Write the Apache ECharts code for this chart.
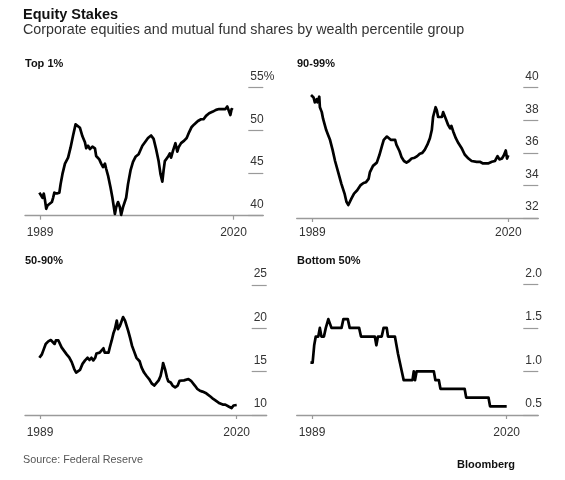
<!DOCTYPE html>
<html>
<head>
<meta charset="utf-8">
<script src="https://cdn.jsdelivr.net/npm/echarts@6/dist/echarts.min.js"></script>
<style>
html,body{margin:0;padding:0;background:#fff;}
#chart{width:565px;height:480px;}
</style>
</head>
<body>
<div id="chart"></div>
<script>
// ---- Data (year, share %) ----
const yearTicks = [1989, 2020];

const top1 = [[1988.9,42.7],[1989.2,42.5],[1989.4,42.1],[1989.6,42.6],[1989.8,41.8],[1990.0,40.8],[1990.2,41.2],[1990.5,41.4],[1990.9,41.6],[1991.1,42.1],[1991.3,42.7],[1991.7,42.6],[1992.1,42.7],[1992.3,43.7],[1992.6,44.9],[1993.0,46.1],[1993.5,46.8],[1993.9,48.0],[1994.3,49.4],[1994.7,50.7],[1995.0,50.8],[1995.4,50.3],[1995.8,49.3],[1996.2,48.6],[1996.4,47.9],[1996.7,48.2],[1997.0,47.8],[1997.4,48.1],[1997.8,47.9],[1998.0,47.0],[1998.5,46.6],[1998.8,46.1],[1999.1,45.7],[1999.4,46.1],[1999.6,45.5],[1999.9,44.7],[2000.3,43.3],[2000.6,42.1],[2000.8,42.0],[2001.0,40.2],[2001.2,41.0],[2001.5,41.6],[2001.8,41.0],[2002.0,40.1],[2002.3,41.0],[2002.6,41.0],[2002.8,42.1],[2003.1,43.7],[2003.5,45.3],[2003.9,46.3],[2004.3,46.9],[2004.8,47.2],[2005.4,48.2],[2005.9,48.7],[2006.3,49.1],[2006.8,49.4],[2007.2,49.0],[2007.6,47.8],[2008.0,46.4],[2008.3,44.9],[2008.6,44.0],[2008.8,45.3],[2009.0,46.4],[2009.5,46.9],[2009.8,47.3],[2010.0,46.8],[2010.3,47.6],[2010.7,48.5],[2011.0,47.5],[2011.2,48.0],[2011.6,48.5],[2012.1,48.8],[2012.5,49.1],[2012.9,49.8],[2013.3,50.4],[2013.7,50.7],[2014.3,51.1],[2014.8,51.3],[2015.2,51.3],[2015.6,51.7],[2016.1,52.0],[2016.7,52.2],[2017.2,52.4],[2017.7,52.5],[2018.1,52.5],[2018.3,52.7],[2018.7,52.5],[2019.0,52.8],[2019.3,52.7],[2019.5,51.8],[2019.7,52.5],[2019.9,52.4]];

const p90to99 = [[1988.8,39.55],[1989.2,39.4],[1989.4,39.1],[1989.7,39.3],[1989.8,39.1],[1990.1,39.45],[1990.2,38.8],[1990.5,38.5],[1990.7,38.1],[1991.2,37.4],[1991.5,37.1],[1991.8,36.8],[1992.2,36.2],[1992.6,35.5],[1993.1,34.8],[1993.6,34.1],[1994.1,33.5],[1994.4,33.0],[1994.7,32.8],[1995.0,32.9],[1995.2,33.2],[1995.6,33.5],[1996.1,33.7],[1996.6,34.0],[1997.1,34.15],[1997.5,34.2],[1997.9,34.4],[1998.1,34.8],[1998.6,35.2],[1999.2,35.4],[1999.6,35.85],[2000.0,36.4],[2000.3,36.8],[2000.8,37.0],[2001.0,36.9],[2001.4,36.8],[2001.7,36.9],[2002.1,36.8],[2002.3,36.5],[2002.8,36.1],[2003.1,35.75],[2003.5,35.5],[2003.9,35.4],[2004.3,35.5],[2004.7,35.65],[2005.2,35.7],[2005.6,35.8],[2006.0,35.95],[2006.4,36.0],[2006.8,36.2],[2007.2,36.5],[2007.6,36.9],[2007.9,37.4],[2008.1,38.2],[2008.5,38.8],[2008.7,38.6],[2008.9,38.2],[2009.2,38.1],[2009.5,38.2],[2009.7,38.5],[2010.0,38.4],[2010.2,38.0],[2010.5,37.7],[2010.8,37.5],[2011.0,37.65],[2011.3,37.3],[2011.7,36.9],[2012.1,36.6],[2012.6,36.3],[2013.1,35.9],[2013.7,35.65],[2014.2,35.5],[2015.0,35.45],[2015.5,35.45],[2016.0,35.35],[2016.3,35.25],[2016.8,35.35],[2017.4,35.45],[2017.9,35.5],[2018.3,35.8],[2018.6,35.6],[2019.0,35.65],[2019.3,35.85],[2019.6,36.15],[2019.8,35.65],[2020.0,35.85]];

const p50to90 = [[1988.9,16.6],[1989.3,17.0],[1989.5,17.4],[1989.8,17.3],[1989.9,18.2],[1990.3,18.5],[1990.7,18.65],[1991.0,18.5],[1991.3,18.2],[1991.5,18.6],[1991.9,18.6],[1992.2,18.5],[1992.4,17.8],[1992.8,17.4],[1993.2,17.0],[1993.6,16.65],[1994.0,16.1],[1994.4,15.3],[1994.7,14.9],[1995.0,14.8],[1995.3,15.2],[1995.7,15.9],[1996.1,16.3],[1996.5,16.6],[1996.8,16.35],[1997.1,16.6],[1997.4,16.3],[1997.7,16.6],[1997.9,17.1],[1998.4,17.2],[1998.7,17.4],[1999.0,17.7],[1999.2,17.2],[1999.5,17.0],[1999.8,17.2],[2000.0,17.8],[2000.3,18.6],[2000.6,19.5],[2000.8,19.9],[2001.1,20.9],[2001.3,19.9],[2001.6,20.3],[2001.9,20.3],[2002.1,21.3],[2002.4,20.9],[2002.7,20.9],[2002.9,19.7],[2003.2,18.9],[2003.5,18.0],[2003.8,17.4],[2004.2,16.6],[2004.7,16.2],[2005.0,15.5],[2005.4,14.9],[2005.8,14.5],[2006.2,14.15],[2006.6,13.65],[2007.0,13.4],[2007.3,13.5],[2007.7,14.0],[2008.0,14.5],[2008.3,15.5],[2008.4,16.0],[2008.7,15.3],[2009.0,14.35],[2009.2,13.9],[2009.6,13.75],[2009.9,13.4],[2010.3,13.2],[2010.7,13.4],[2011.0,13.95],[2011.3,14.15],[2011.7,14.0],[2012.0,14.15],[2012.4,14.15],[2012.8,13.95],[2013.1,13.75],[2013.4,13.4],[2013.8,13.0],[2014.2,12.8],[2014.6,12.7],[2015.2,12.5],[2015.5,12.35],[2015.9,12.1],[2016.3,11.85],[2016.7,11.65],[2017.3,11.35],[2017.8,11.2],[2018.2,11.2],[2018.4,11.1],[2018.8,10.95],[2019.2,10.8],[2019.5,11.1],[2019.6,11.3],[2019.8,11.1],[2020.0,11.15]];

const bottom50 = [[1988.75,1.1],[1989.1,1.1],[1989.35,1.3],[1989.6,1.4],[1990.0,1.4],[1990.25,1.5],[1990.5,1.4],[1990.9,1.4],[1991.2,1.5],[1991.6,1.6],[1991.8,1.6],[1992.1,1.5],[1993.7,1.5],[1994.0,1.6],[1994.7,1.6],[1995.0,1.5],[1996.5,1.5],[1996.8,1.4],[1999.0,1.4],[1999.25,1.3],[1999.5,1.4],[2000.1,1.4],[2000.4,1.5],[2000.9,1.5],[2001.1,1.4],[2002.2,1.4],[2002.45,1.3],[2002.7,1.2],[2003.0,1.1],[2003.3,1.0],[2003.6,0.9],[2005.0,0.9],[2005.2,1.0],[2005.4,0.9],[2005.65,1.0],[2008.4,1.0],[2008.65,0.9],[2009.2,0.9],[2009.45,0.8],[2013.3,0.8],[2013.55,0.7],[2017.1,0.7],[2017.35,0.6],[2020.0,0.6]];

const panelTitles = ['Top 1%', '90-99%', '50-90%', 'Bottom 50%'];
const yScales = [
  {min: 40, max: 55, interval: 5},
  {min: 32, max: 40, interval: 2},
  {min: 10, max: 25, interval: 5},
  {min: 0.5, max: 2.0, interval: 0.5}
];
const seriesData = [top1, p90to99, p50to90, bottom50];

// ---- Layout (pixels) ----
const FONT = '"Liberation Sans", Arial, Helvetica, sans-serif';
const panels = [
  {left: 25,    right: 263.3, top: 87.7,  bottom: 215.7, x89: 40,    x20: 233.5, lm: 11},
  {left: 296.7, right: 538.3, top: 87.7,  bottom: 218,   x89: 312.3, x20: 508.3, lm: 9},
  {left: 25,    right: 266.7, top: 285,   bottom: 415,   x89: 40,    x20: 236.7, lm: 11.5},
  {left: 296.7, right: 538.3, top: 284.3, bottom: 415,   x89: 312,   x20: 506.7, lm: 11.5}
];
const titlePos = [[25, 64], [297, 64], [25, 261], [297, 261]];
const AXIS_GRAY = '#9a9a9a';

const grids = [], xAxes = [], yAxes = [], series = [];
panels.forEach((p, i) => {
  grids.push({left: p.left, top: p.top, width: p.right - p.left, height: p.bottom - p.top,
              containLabel: false, outerBoundsMode: 'none'});
  const ppy = (p.x20 - p.x89) / (yearTicks[1] - yearTicks[0]);
  xAxes.push({
    type: 'value', gridIndex: i,
    min: yearTicks[0] - (p.x89 - p.left) / ppy,
    max: yearTicks[1] + (p.right - p.x20) / ppy,
    axisLine: {show: true, onZero: false, lineStyle: {color: AXIS_GRAY, width: 1.3}},
    axisTick: {show: true, customValues: yearTicks, length: 4, lineStyle: {color: AXIS_GRAY, width: 1.2}},
    axisLabel: {show: true, customValues: yearTicks, margin: p.lm, fontSize: 12, color: '#333', fontFamily: FONT,
                formatter: v => String(Math.round(v))},
    splitLine: {show: false}
  });
  const ys = yScales[i];
  yAxes.push({
    type: 'value', gridIndex: i, position: 'right',
    min: ys.min, max: ys.max, interval: ys.interval,
    axisLine: {show: false},
    axisTick: {show: true, inside: true, length: 15, lineStyle: {color: AXIS_GRAY, width: 1.2}},
    axisLabel: {show: true, inside: true, align: 'left', margin: 13, verticalAlign: 'bottom',
                lineHeight: 12, padding: [0, 0, 5, 0],
                fontSize: 12, color: '#333', fontFamily: FONT,
                formatter: v => {
                  if (i === 3) return v.toFixed(1);
                  if (i === 0 && v === ys.max) return v + '%';
                  return String(v);
                }},
    splitLine: {show: false}
  });
  series.push({
    type: 'line', xAxisIndex: i, yAxisIndex: i, data: seriesData[i],
    showSymbol: false, symbol: 'none', smooth: false, clip: false,
    lineStyle: {color: '#000', width: 2.7, join: 'round'},
    silent: true, animation: false
  });
});

const graphics = [
  {type: 'text', style: {x: 23, y: 15, text: 'Equity Stakes', font: 'bold 14.5px ' + FONT, fill: '#111', textVerticalAlign: 'middle'}},
  {type: 'text', style: {x: 23, y: 30, text: 'Corporate equities and mutual fund shares by wealth percentile group', font: '14.3px ' + FONT, fill: '#333', textVerticalAlign: 'middle'}},
  {type: 'text', style: {x: 23, y: 460, text: 'Source: Federal Reserve', font: '10.8px ' + FONT, fill: '#555', textVerticalAlign: 'middle'}},
  {type: 'text', style: {x: 515, y: 465, text: 'Bloomberg', font: 'bold 11px ' + FONT, fill: '#111', textAlign: 'right', textVerticalAlign: 'middle'}}
];
panelTitles.forEach((t, i) => {
  graphics.push({type: 'text', style: {x: titlePos[i][0], y: titlePos[i][1], text: t, font: 'bold 11px ' + FONT, fill: '#111', textVerticalAlign: 'middle'}});
});

const chart = echarts.init(document.getElementById('chart'), null, {renderer: 'canvas'});
chart.setOption({
  animation: false,
  backgroundColor: '#fff',
  grid: grids, xAxis: xAxes, yAxis: yAxes, series: series,
  graphic: graphics
});
</script>
</body>
</html>
